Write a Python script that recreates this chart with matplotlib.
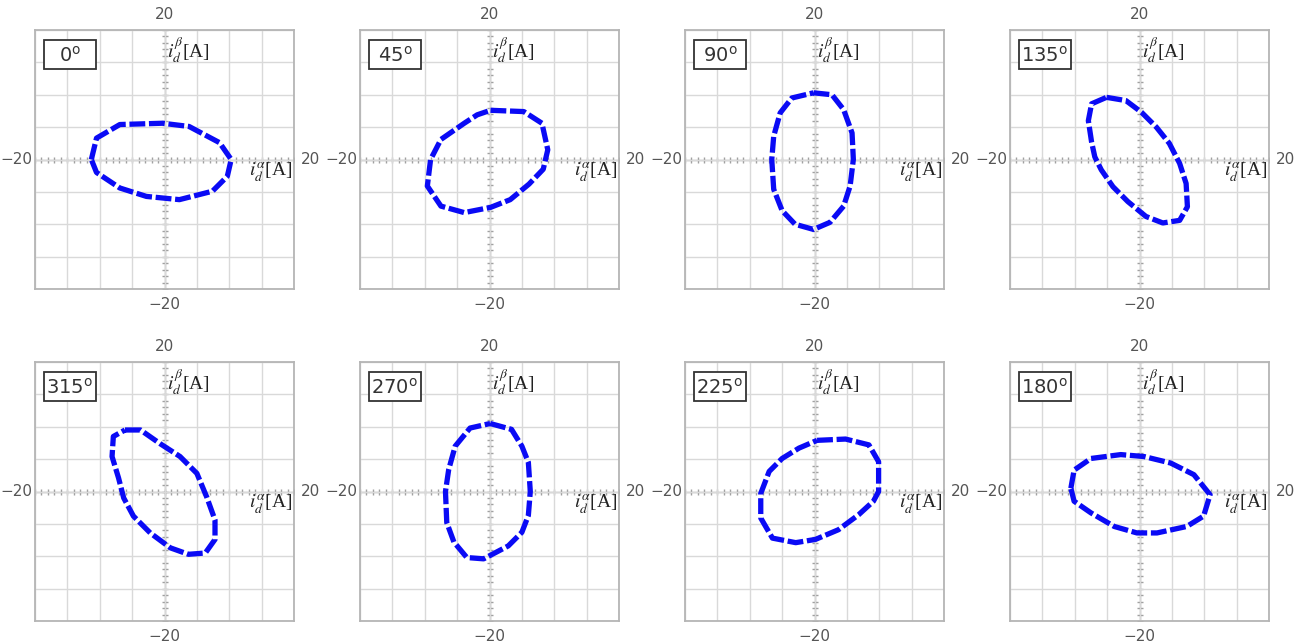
import matplotlib.pyplot as plt
import numpy as np
from matplotlib.patches import Rectangle

# measured current trajectories (i_alpha, i_beta) in A, one per fault angle
angles = ['0', '45', '90', '135', '315', '270', '225', '180']

ia_0 = [-11.3, -10.5, -6.9, -0.3, 3.8, 8.5, 10.3, 9.7, 7.4, 2.3, -2.8, -6.9, -10.5]
ib_0 = [0.0, 3.3, 5.4, 5.6, 5.1, 2.6, 0.0, -2.6, -4.9, -6.2, -5.7, -4.4, -2.0]

ia_45 = [0.15, 5.3, 8.1, 9.0, 8.3, 6.1, 3.2, 0.15, -3.9, -7.5, -9.6, -9.1, -7.5, -3.9, -1.9]
ib_45 = [7.6, 7.4, 5.6, 1.5, -1.5, -3.8, -6.2, -7.4, -8.2, -7.2, -4.1, 0.0, 3.1, 5.6, 6.9]

ia_90 = [-0.15, 2.7, 4.5, 5.8, 6.0, 5.5, 4.5, 2.4, -0.15, -3.0, -5.0, -6.3, -6.6, -6.3, -5.3, -3.5]
ib_90 = [10.3, 10.0, 7.7, 4.1, 0.0, -4.1, -7.2, -9.7, -10.8, -10.0, -7.9, -4.6, 0.0, 3.6, 7.2, 9.5]

ia_135 = [-5.1, -2.1, 0.3, 2.6, 4.6, 6.2, 7.2, 7.4, 6.2, 3.6, 1.0, -1.8, -4.1, -5.9, -6.9, -7.4, -7.9, -7.4]
ib_135 = [9.6, 9.1, 7.3, 5.0, 2.5, -0.6, -3.7, -7.3, -9.4, -9.8, -8.8, -6.5, -4.2, -1.6, 0.4, 2.7, 6.0, 8.6]

ia_315 = [-6.1, -3.7, -0.7, 2.4, 5.0, 6.5, 7.8, 7.8, 6.3, 3.7, 0.9, -2.2, -4.8, -6.3, -7.1, -8.1, -7.9]
ib_315 = [9.5, 9.5, 7.4, 5.4, 2.8, -0.8, -4.4, -7.4, -9.5, -9.7, -8.7, -6.4, -3.8, -1.0, 2.1, 5.4, 8.5]

ia_270 = [0.1, 3.4, 5.0, 6.0, 6.3, 6.0, 5.0, 2.9, -0.9, -3.5, -5.5, -6.6, -6.8, -6.3, -5.3, -3.0]
ib_270 = [10.5, 9.6, 7.0, 4.5, 0.0, -3.7, -6.3, -8.4, -10.4, -10.2, -7.8, -4.8, 0.0, 3.4, 7.0, 9.8]

ia_225 = [0.4, 4.8, 8.4, 9.9, 9.9, 9.1, 6.8, 3.7, 0.15, -2.9, -6.5, -8.3, -8.3, -7.0, -5.0, -2.4]
ib_225 = [7.9, 8.1, 7.2, 4.6, 0.0, -1.5, -3.6, -5.9, -7.4, -7.9, -7.2, -4.1, -0.3, 3.1, 5.1, 6.7]

ia_180 = [-10.6, -10.1, -7.5, -2.9, 0.7, 4.8, 8.4, 10.9, 9.9, 7.3, 2.7, -0.4, -3.9, -7.5, -10.1]
ib_180 = [0.5, 3.3, 5.1, 5.7, 5.4, 4.4, 2.6, -0.5, -3.8, -5.4, -6.4, -6.4, -5.4, -3.3, -1.5]

traces = [(ia_0, ib_0), (ia_45, ib_45), (ia_90, ib_90), (ia_135, ib_135),
          (ia_315, ib_315), (ia_270, ib_270), (ia_225, ib_225), (ia_180, ib_180)]

W, H = 1305, 642
fig = plt.figure(figsize=(W / 100, H / 100), dpi=100)

lefts = [35, 360, 685, 1010]
tops = [30, 362]
size = 259

lbl_col = '#555555'
for k, (ang, (ia, ib)) in enumerate(zip(angles, traces)):
    r, c = divmod(k, 4)
    ax = fig.add_axes([lefts[c] / W, 1 - (tops[r] + size) / H, size / W, size / H])
    ax.set_xlim(-20, 20)
    ax.set_ylim(-20, 20)
    ax.set_xticks(np.arange(-20, 21, 5))
    ax.set_yticks(np.arange(-20, 21, 5))
    ax.tick_params(length=0, labelbottom=False, labelleft=False)
    ax.grid(True, color='#d9d9d9', lw=1.0)
    for s in ax.spines.values():
        s.set_color('#b5b5b5')
        s.set_linewidth(1.3)

    # center cross with unit tick marks
    ax.axhline(0, color='#a0a0a0', lw=1.0, zorder=1)
    ax.axvline(0, color='#a0a0a0', lw=1.0, zorder=1)
    u = np.arange(-20, 21)
    ax.plot(u, np.zeros_like(u), '|', color='#a0a0a0', ms=5, mew=1.0, zorder=1)
    ax.plot(np.zeros_like(u), u, '_', color='#a0a0a0', ms=5, mew=1.0, zorder=1)

    x = np.append(ia, ia[0])
    y = np.append(ib, ib[0])
    ax.plot(x, y, color='#0a0af5', lw=3.8, ls=(0, (3, 0.7)), zorder=3)

    # scale labels around the box
    ax.text(0.5, 1.03, '20', transform=ax.transAxes, ha='center', va='bottom',
            fontsize=11, color=lbl_col)
    ax.text(0.5, -0.03, '\u221220', transform=ax.transAxes, ha='center', va='top',
            fontsize=11, color=lbl_col)
    ax.text(-0.012, 0.5, '\u221220', transform=ax.transAxes, ha='right', va='center',
            fontsize=11, color=lbl_col)
    ax.text(1.025, 0.5, '20', transform=ax.transAxes, ha='left', va='center',
            fontsize=11, color=lbl_col)

    # axis names
    ax.text(0.51, 0.98, r'$i_d^{\beta}$[A]', transform=ax.transAxes, ha='left', va='top',
            fontsize=14, family='Liberation Serif', math_fontfamily='stix', color='#222222')
    ax.text(0.995, 0.45, r'$i_d^{\alpha}$[A]', transform=ax.transAxes, ha='right', va='center',
            fontsize=14, family='Liberation Serif', math_fontfamily='stix', color='#222222')

    # angle tag in a fixed-size box
    ax.add_patch(Rectangle((0.035, 0.848), 0.2, 0.112, transform=ax.transAxes,
                           fc='white', ec='#333333', lw=1.3, zorder=5))
    ax.text(0.135, 0.902, ang + r'$^{\mathrm{o}}$', transform=ax.transAxes,
            ha='center', va='center', fontsize=14, color='#333333', zorder=6)

fig.savefig('out.png', dpi=100)
